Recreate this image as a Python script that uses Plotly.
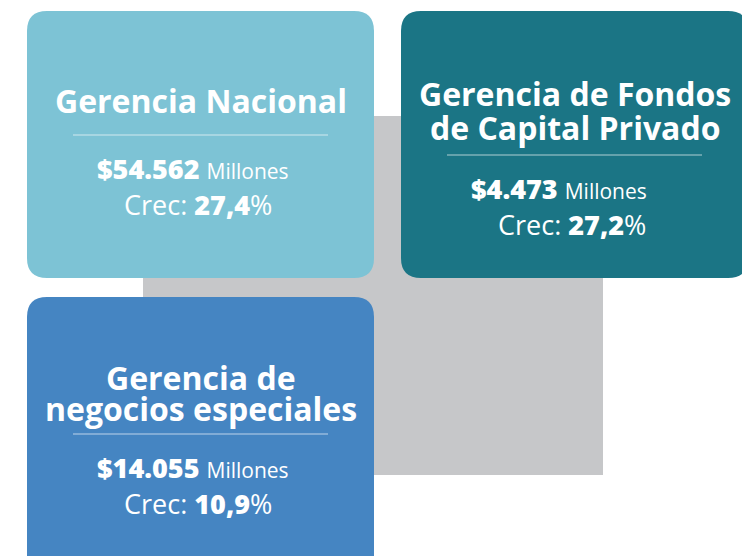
import plotly.graph_objects as go

# ---- data ----
units = ["Gerencia Nacional", "Gerencia de Fondos<br>de Capital Privado", "Gerencia de<br>negocios especiales"]
amounts = ["$54.562", "$4.473", "$14.055"]
amount_unit = "Millones"
growth = ["27,4", "27,2", "10,9"]

# ---- layout (pixel space of the visible window) ----
W, H = 750, 556
OFF = 8  # page body margin
box_colors = ["#7DC3D5", "#1B7585", "#4585C2"]
boxes = [(27, 11, 374, 278), (401, 11, 748, 278), (27, 297, 374, 590)]
sep_y = [135, 155, 434]
title_line_ys = [[100], [93, 127], [377, 408]]
back_rect = (143, 116, 603, 475)
R = 20
FONT = "Open Sans"


def rounded(x0, y0, x1, y1, r):
    return (f"M {x0+r},{y0} L {x1-r},{y0} Q {x1},{y0} {x1},{y0+r} "
            f"L {x1},{y1-r} Q {x1},{y1} {x1-r},{y1} L {x0+r},{y1} "
            f"Q {x0},{y1} {x0},{y1-r} L {x0},{y0+r} Q {x0},{y0} {x0+r},{y0} Z")


fig = go.Figure()
shapes = [dict(type="rect", xref="x", yref="y", x0=back_rect[0], y0=back_rect[1],
               x1=back_rect[2], y1=back_rect[3], fillcolor="#C6C7C9", line_width=0, layer="below")]
annotations = []

for i, (x0, y0, x1, y1) in enumerate(boxes):
    shapes.append(dict(type="path", path=rounded(x0, y0, x1, y1, R), xref="x", yref="y",
                       fillcolor=box_colors[i], line_width=0, layer="below"))
    cx = (x0 + x1) / 2
    ly = sep_y[i]
    shapes.append(dict(type="line", xref="x", yref="y", x0=x0 + 46, x1=x0 + 301, y0=ly, y1=ly,
                       line=dict(color="rgba(255,255,255,0.65)", width=1)))
    for line_text, ty in zip(units[i].split("<br>"), title_line_ys[i]):
        annotations.append(dict(x=cx, y=ty, xref="x", yref="y", text=f"<b>{line_text}</b>",
                                showarrow=False, xanchor="center", yanchor="middle",
                                font=dict(family=FONT, size=32, color="white")))
    annotations.append(dict(x=x0 + 68, y=ly + 33, xref="x", yref="y",
                            text=f"<span style='font-weight:800'>{amounts[i]}</span> "
                                 f"<span style='font-size:21px'>{amount_unit}</span>",
                            showarrow=False, xanchor="left", yanchor="middle",
                            font=dict(family=FONT, size=27, color="white")))
    annotations.append(dict(x=x0 + 95, y=ly + 69, xref="x", yref="y",
                            text=f"Crec: <span style='font-weight:800'>{growth[i]}</span>%",
                            showarrow=False, xanchor="left", yanchor="middle",
                            font=dict(family=FONT, size=27, color="white")))

fig.update_layout(
    width=W, height=H, margin=dict(l=0, r=0, t=0, b=0),
    paper_bgcolor="white", plot_bgcolor="white",
    xaxis=dict(range=[OFF, W + OFF], visible=False, fixedrange=True),
    yaxis=dict(range=[H + OFF, OFF], visible=False, fixedrange=True),
    shapes=shapes, annotations=annotations, showlegend=False,
)
fig.write_html("out.html")
